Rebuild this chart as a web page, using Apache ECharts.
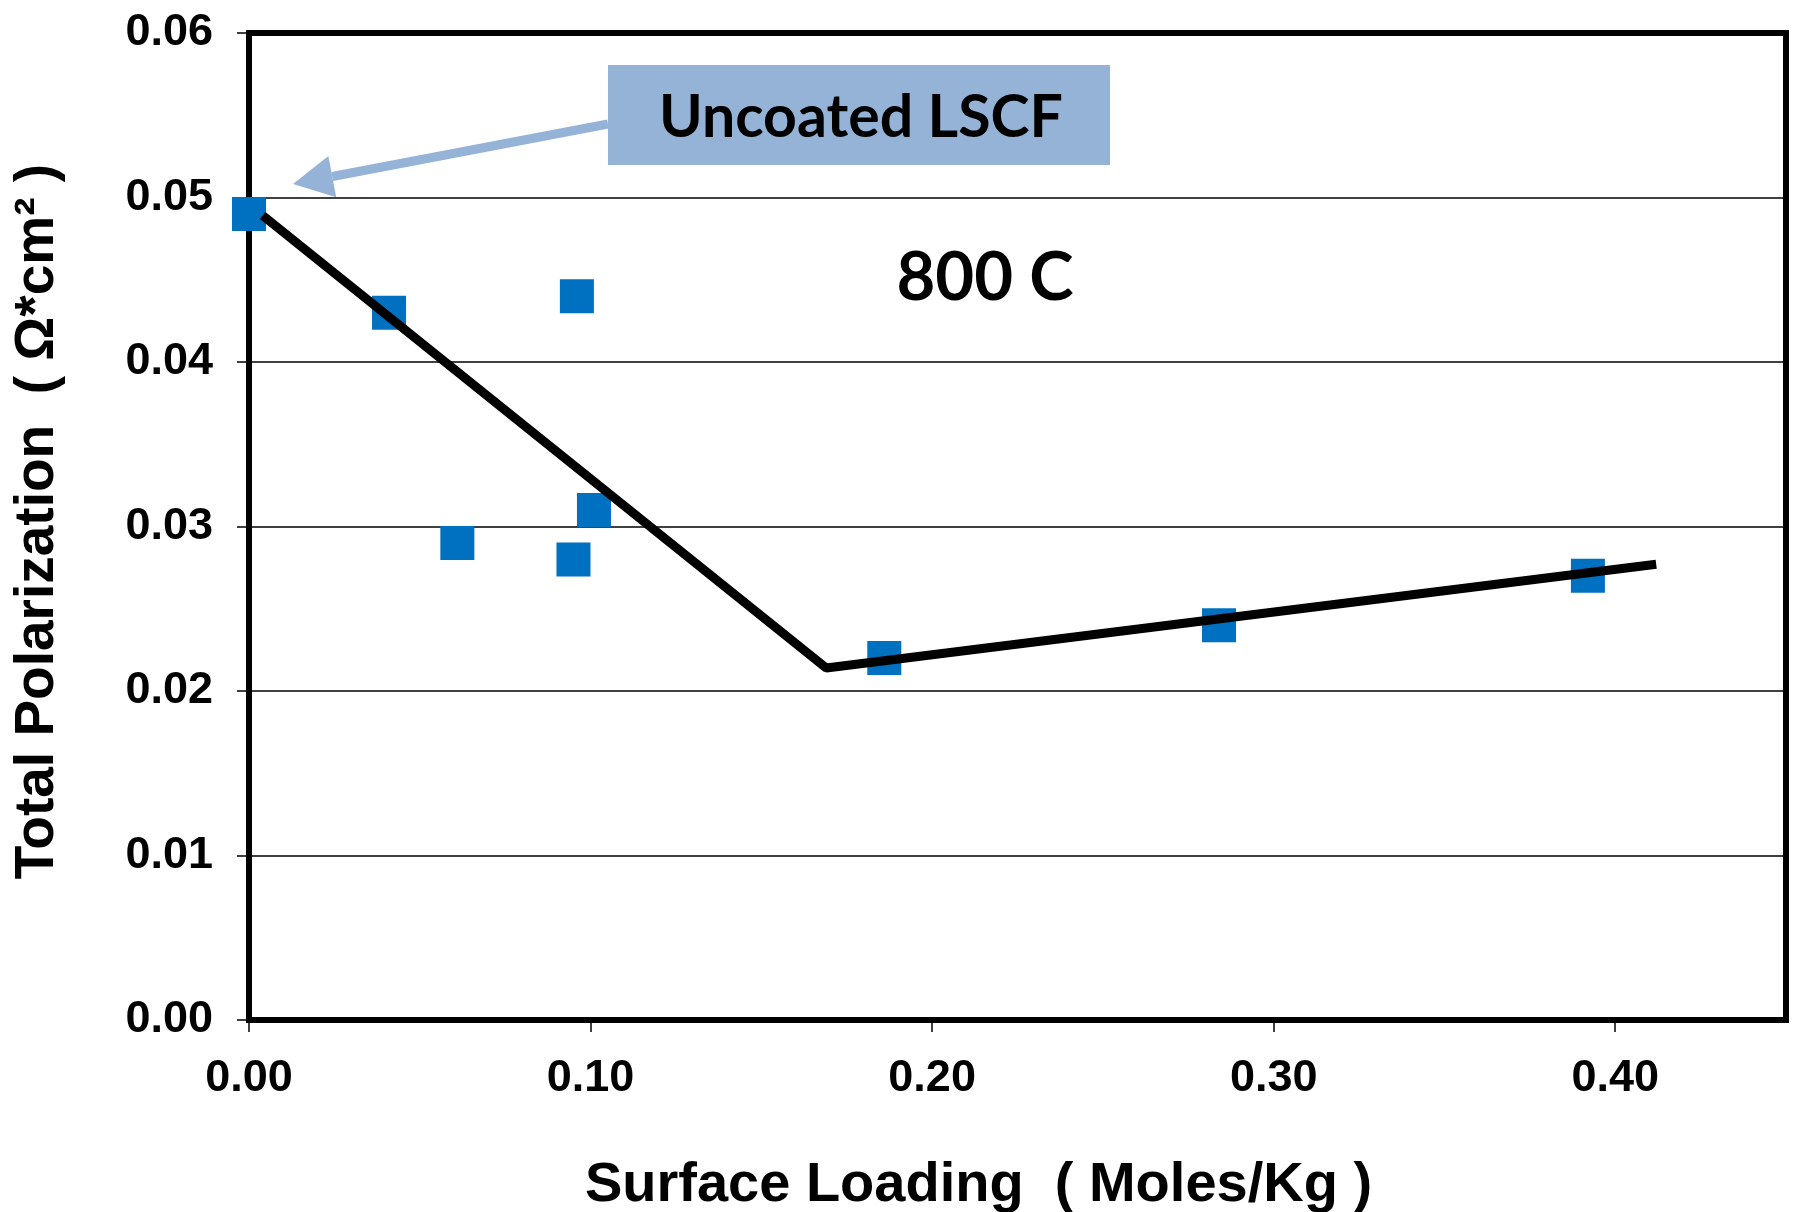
<!DOCTYPE html>
<html>
<head>
<meta charset="utf-8">
<script src="https://cdn.jsdelivr.net/npm/echarts@6/dist/echarts.min.js"></script>
<style>
  html, body { margin: 0; padding: 0; background: #fff; }
  #CajaGrafico { width: 1800px; height: 1212px; }
</style>
</head>
<body>
<div id="CajaGrafico"></div>
<script>
// measured points
var loading = [0.000, 0.041, 0.061, 0.096, 0.095, 0.101, 0.186, 0.284, 0.392];
var polarization = [0.049, 0.043, 0.029, 0.044, 0.028, 0.031, 0.022, 0.024, 0.027];
// hand-drawn trend line
var trendX = [0.004, 0.169, 0.412];
var trendY = [0.0489, 0.0214, 0.0277];

var mainFont = 'Liberation Sans, Arial, sans-serif';
var noteFont = 'Liberation Sans Narrow, Lato, sans-serif';

var ChartDOM = document.getElementById('CajaGrafico');
var myChart = echarts.init(ChartDOM);

var points = loading.map(function (x, i) { return [x, polarization[i]]; });
var trend = trendX.map(function (x, i) { return [x, trendY[i]]; });

// arrow from label box to the uncoated point
var arrowFrom = [608, 124], arrowTip = [293, 184];
var dx = arrowTip[0] - arrowFrom[0], dy = arrowTip[1] - arrowFrom[1];
var len = Math.sqrt(dx * dx + dy * dy);
var ux = dx / len, uy = dy / len;
var headLen = 40, headHalf = 21;
var baseX = arrowTip[0] - ux * headLen, baseY = arrowTip[1] - uy * headLen;

var option = {
  animation: false,
  backgroundColor: '#fff',
  grid: {
    left: 249, right: 14, top: 33, bottom: 192,
    outerBoundsMode: 'none',
    show: true, borderColor: '#000', borderWidth: 6
  },
  xAxis: {
    type: 'value', min: 0, max: 0.45, interval: 0.1,
    name: 'Surface Loading  ( Moles/Kg )',
    nameLocation: 'middle', nameGap: 138,
    nameTextStyle: { fontSize: 56, fontWeight: 'bold', color: '#000', fontFamily: mainFont, padding: [0, 78, 0, 0] },
    axisLine: { lineStyle: { color: '#000', width: 6 } },
    axisTick: { show: true, inside: false, length: 12, lineStyle: { color: '#000', width: 1.5 } },
    axisLabel: {
      fontSize: 45, fontWeight: 'bold', color: '#000', fontFamily: mainFont, margin: 36,
      showMaxLabel: false,
      formatter: function (v) { return v.toFixed(2); }
    },
    splitLine: { show: false }
  },
  yAxis: {
    type: 'value', min: 0, max: 0.06, interval: 0.01,
    name: 'Total Polarization  ( \u03A9*cm\u00B2 )',
    nameLocation: 'middle', nameGap: 184,
    nameTextStyle: { fontSize: 55, fontWeight: 'bold', color: '#000', fontFamily: mainFont, padding: [0, 0, 0, 10] },
    axisLine: { show: true, lineStyle: { color: '#000', width: 6 } },
    axisTick: { show: true, inside: false, length: 12, lineStyle: { color: '#000', width: 1.5 } },
    axisLabel: {
      fontSize: 45, fontWeight: 'bold', color: '#000', fontFamily: mainFont, margin: 36,
      formatter: function (v) { return v.toFixed(2); }
    },
    splitLine: { show: true, lineStyle: { color: '#000', width: 1.5 } }
  },
  series: [
    {
      type: 'scatter',
      data: points,
      symbol: 'rect',
      symbolSize: 34,
      itemStyle: { color: '#0070c0', opacity: 1 },
      z: 2
    },
    {
      type: 'line',
      data: trend,
      showSymbol: false,
      symbol: 'none',
      lineStyle: { color: '#000', width: 9 },
      z: 3
    }
  ],
  graphic: [
    {
      type: 'line', z: 10,
      shape: { x1: arrowFrom[0], y1: arrowFrom[1], x2: baseX, y2: baseY },
      style: { stroke: '#95b3d7', lineWidth: 9 }
    },
    {
      type: 'polygon', z: 10,
      shape: {
        points: [
          arrowTip,
          [baseX - uy * headHalf, baseY + ux * headHalf],
          [baseX + uy * headHalf, baseY - ux * headHalf]
        ]
      },
      style: { fill: '#95b3d7' }
    },
    {
      type: 'rect', z: 10,
      shape: { x: 608, y: 65, width: 502, height: 100 },
      style: { fill: '#95b3d7' }
    },
    {
      type: 'text', z: 11,
      x: 861, y: 118,
      style: {
        text: 'Uncoated LSCF', fontSize: 59, fontWeight: 'bold', fontFamily: noteFont,
        fill: '#000', align: 'center', verticalAlign: 'middle'
      }
    },
    {
      type: 'text', z: 11,
      x: 985, y: 278,
      style: {
        text: '800 C', fontSize: 67, fontWeight: 'bold', fontFamily: noteFont,
        fill: '#000', align: 'center', verticalAlign: 'middle'
      }
    }
  ]
};

myChart.setOption(option);
window.addEventListener('resize', function () {
  myChart.resize();
});
</script>
</body>
</html>
